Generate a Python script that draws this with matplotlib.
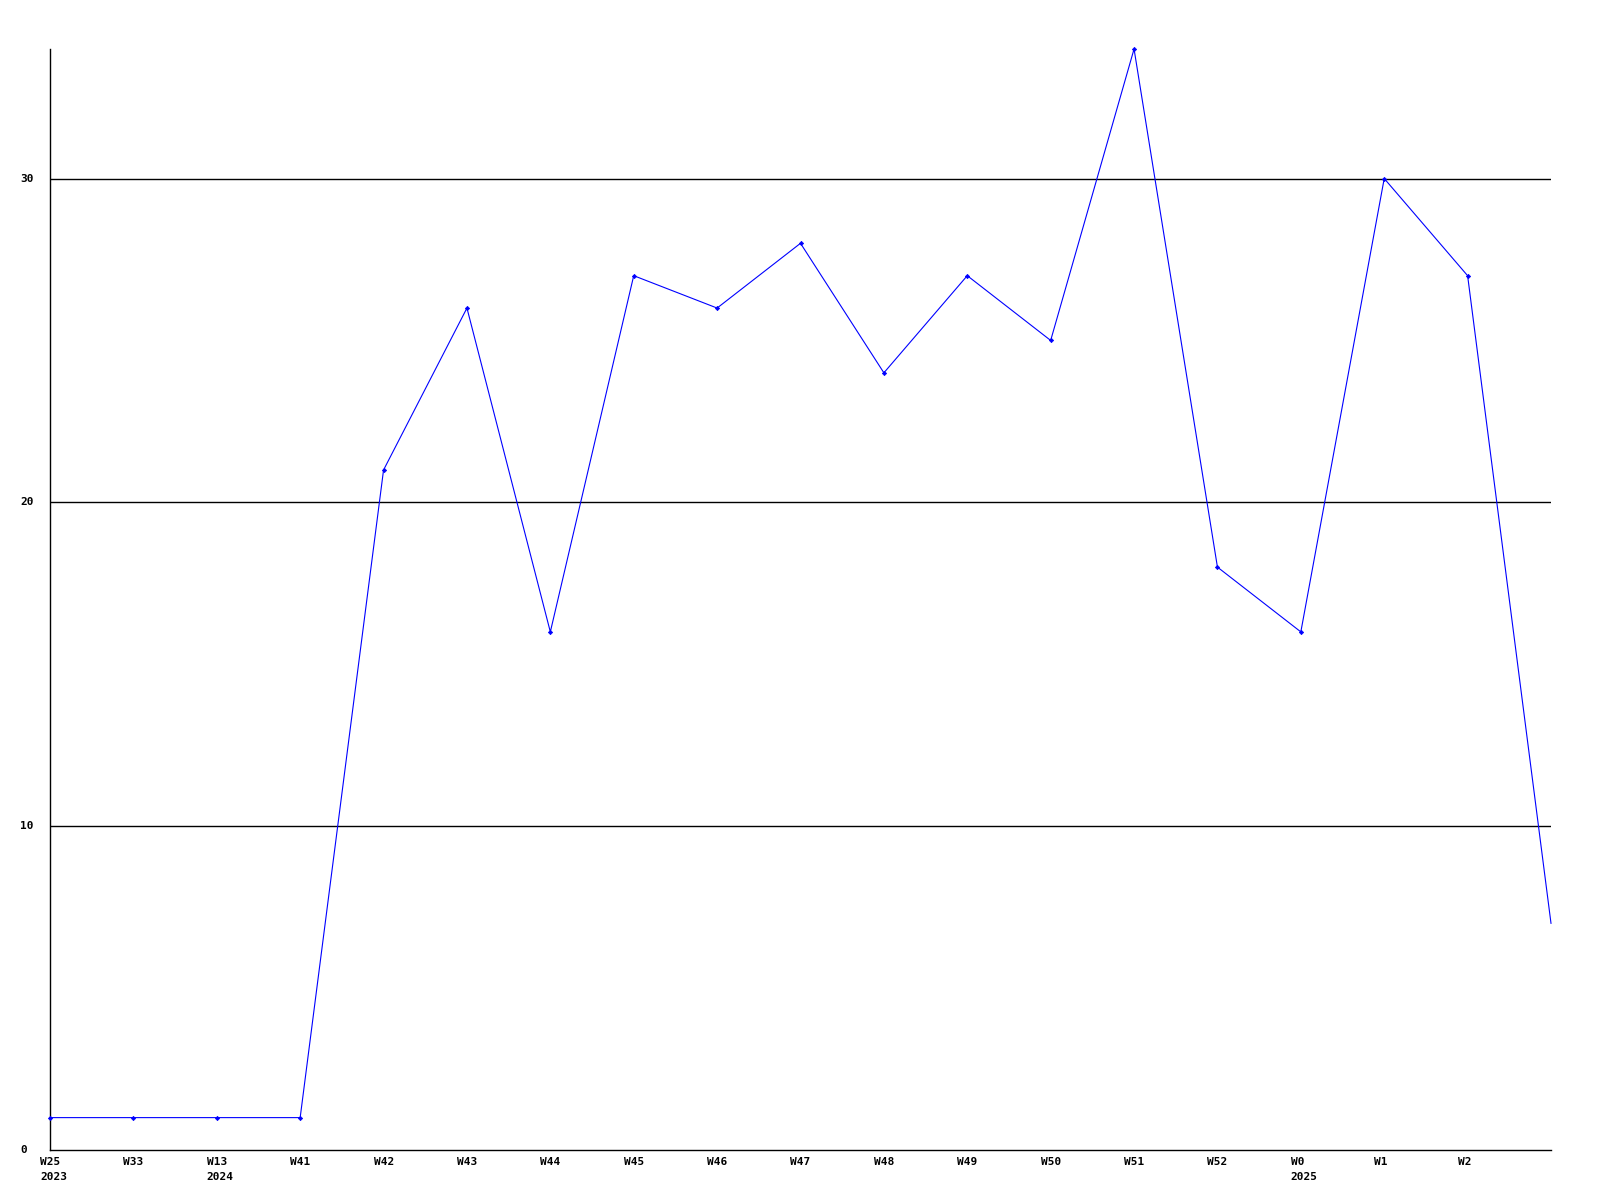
import numpy as np
import matplotlib.pyplot as plt
from matplotlib import transforms

# weekly values
week_labels = ['W25', 'W33', 'W13', 'W41', 'W42', 'W43', 'W44', 'W45', 'W46', 'W47',
               'W48', 'W49', 'W50', 'W51', 'W52', 'W0', 'W1', 'W2', '']
year_labels = ['2023', '', '2024', '', '', '', '', '', '', '',
               '', '', '', '', '', '2025', '', '', '']
values = [1, 1, 1, 1, 21, 26, 16, 27, 26, 28, 24, 27, 25, 34, 18, 16, 30, 27, 7]
y_ticks = [0, 10, 20, 30]

fig = plt.figure(figsize=(16, 12), dpi=100)
ax = fig.add_axes([50 / 1600, 50 / 1200, 1501 / 1600, 1101 / 1200])

x = np.arange(len(values))
# last point sits on the right edge without a marker
ax.plot(x, values, color='#0000ff', linewidth=0.8, marker='D', markersize=2.2,
        markeredgewidth=0.5, markevery=list(range(len(values) - 1)),
        clip_on=False, zorder=3)

ax.set_xlim(0, len(values) - 1)
ax.set_ylim(0, 34)

for yv in y_ticks[1:]:
    ax.axhline(yv, color='black', linewidth=1, zorder=1)

for s in ['top', 'right']:
    ax.spines[s].set_visible(False)
for s in ['left', 'bottom']:
    ax.spines[s].set_color('black')
    ax.spines[s].set_linewidth(1)

ax.set_xticks([])
ax.set_yticks([])

font = dict(family='DejaVu Sans Mono', fontweight='bold', fontsize=8, color='black')

# y labels
ytr = transforms.blended_transform_factory(fig.transFigure, ax.transData)
for yv in y_ticks:
    ax.text(20 / 1600, yv, str(yv), transform=ytr, ha='left', va='center', **font)

# x labels: week on first line, year below
xtr = transforms.blended_transform_factory(ax.transData, ax.transAxes)
for i, (w, yr) in enumerate(zip(week_labels, year_labels)):
    t1 = transforms.offset_copy(xtr, fig=fig, x=-10, y=-12, units='dots')
    ax.text(i, 0, w, transform=t1, ha='left', va='center', **font)
    if yr:
        t2 = transforms.offset_copy(xtr, fig=fig, x=-10, y=-27, units='dots')
        ax.text(i, 0, yr, transform=t2, ha='left', va='center', **font)

fig.savefig('out.png', dpi=100)
